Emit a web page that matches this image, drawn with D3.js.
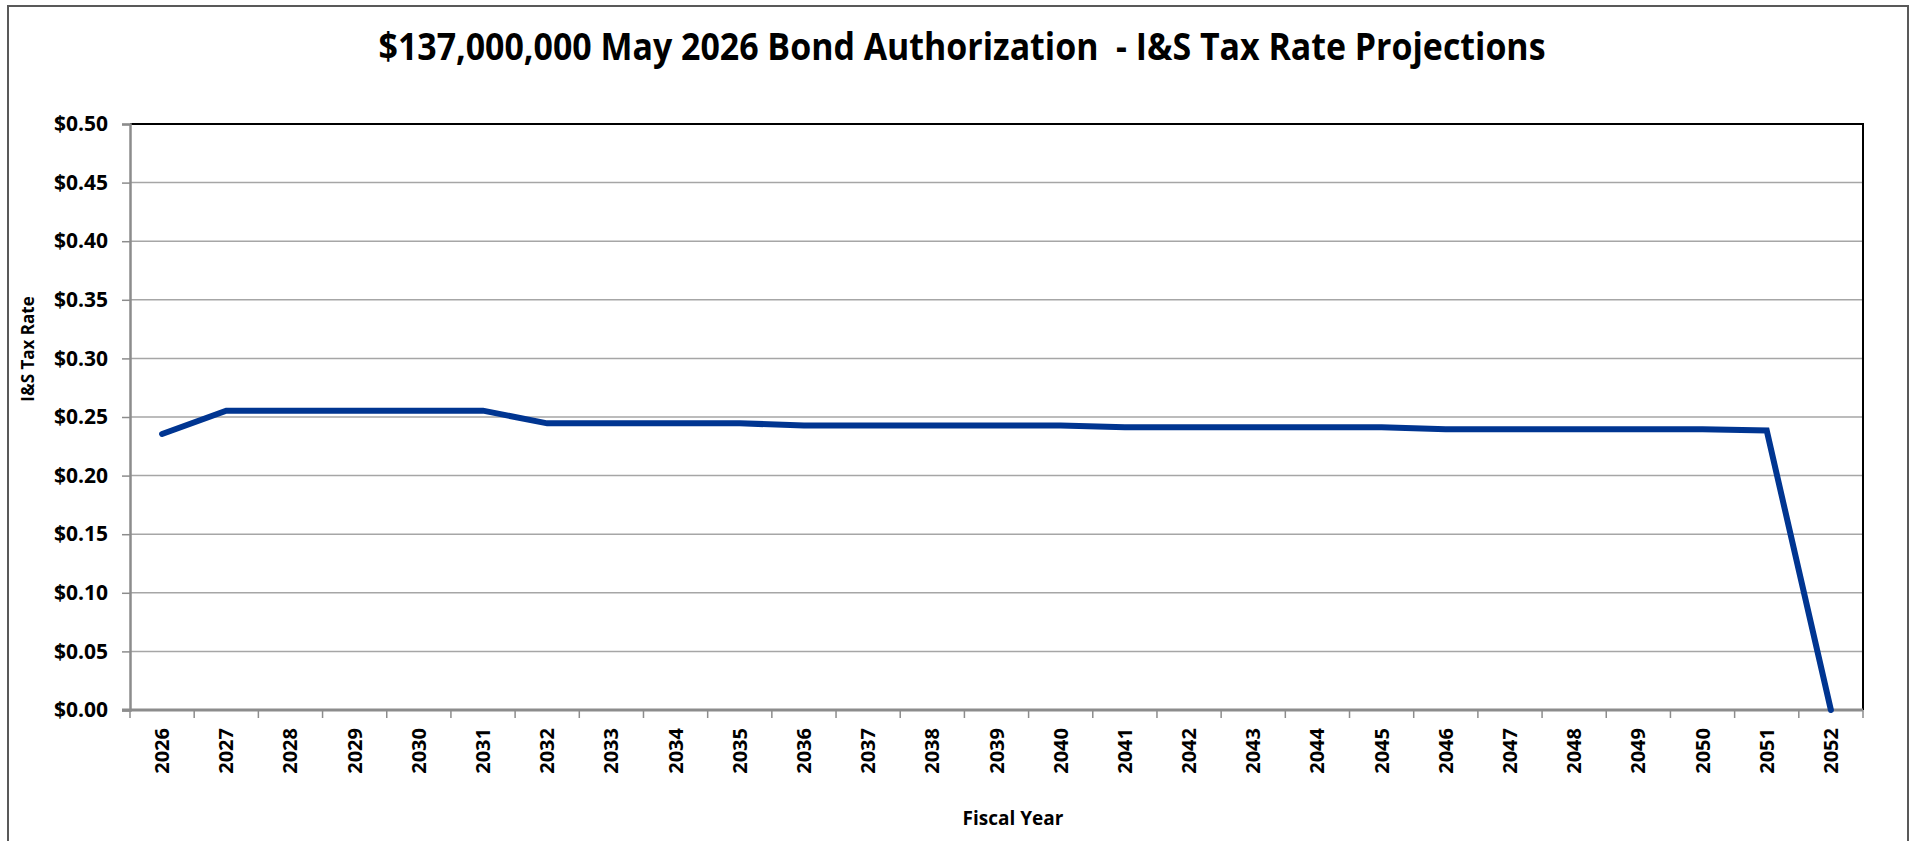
<!DOCTYPE html>
<html lang="en">
<head>
    <meta charset="UTF-8">
    <title>I&amp;S Tax Rate Projections</title>
    <script src="https://cdn.jsdelivr.net/npm/d3@7"></script>
    <style>
        body { margin: 0; background: #fff; }
        svg { display: block; font-family: "Open Sans", sans-serif; font-weight: bold; }
        .grid line { stroke: #a6a6a6; stroke-width: 1.5px; }
        .ylab text { font-size: 21px; fill: #000; }
        .xlab text { font-size: 20px; fill: #000; }
    </style>
</head>
<body>
    <script>
        // data
        let years = ['2026','2027','2028','2029','2030','2031','2032','2033','2034','2035',
                     '2036','2037','2038','2039','2040','2041','2042','2043','2044','2045',
                     '2046','2047','2048','2049','2050','2051','2052'];
        let rates = [0.2355, 0.2554, 0.2554, 0.2554, 0.2554, 0.2554, 0.2446, 0.2446, 0.2446, 0.2446,
                     0.2428, 0.2428, 0.2428, 0.2428, 0.2428, 0.2412, 0.2412, 0.2412, 0.2412, 0.2412,
                     0.2395, 0.2395, 0.2395, 0.2395, 0.2395, 0.2385, 0];
        let yTicks = [0, 0.05, 0.10, 0.15, 0.20, 0.25, 0.30, 0.35, 0.40, 0.45, 0.50];

        let title = '$137,000,000 May 2026 Bond Authorization  - I&S Tax Rate Projections';
        let yTitle = 'I&S Tax Rate';
        let xTitle = 'Fiscal Year';

        let width = 1916, height = 841;
        let plot = {left: 130, right: 1863, top: 124, bottom: 710};

        let svg = d3.select('body').append('svg')
                    .attr('width', width)
                    .attr('height', height);

        // outer frame
        svg.append('rect')
            .attr('x', 8).attr('y', 6)
            .attr('width', 1900).attr('height', 850)
            .attr('fill', 'none')
            .attr('stroke', '#595959')
            .attr('stroke-width', 2);

        // scales
        let x = d3.scaleBand()
                    .domain(years)
                    .range([plot.left, plot.right]);

        let y = d3.scaleLinear()
                    .domain([0, 0.5])
                    .range([plot.bottom, plot.top]);

        // gridlines
        svg.append('g')
            .attr('class', 'grid')
            .selectAll('line')
            .data(yTicks.slice(1, -1))
            .enter()
            .append('line')
            .attr('x1', plot.left)
            .attr('x2', plot.right)
            .attr('y1', y)
            .attr('y2', y);

        // top + right border
        svg.append('path')
            .attr('d', 'M' + plot.left + ',' + plot.top + 'H' + plot.right + 'V' + plot.bottom)
            .attr('fill', 'none')
            .attr('stroke', '#000')
            .attr('stroke-width', 2);

        // y axis
        let yAxis = svg.append('g')
            .attr('class', 'ylab')
            .attr('transform', 'translate(' + plot.left + ',0)')
            .call(d3.axisLeft(y)
                .tickValues(yTicks)
                .tickSize(8)
                .tickPadding(14)
                .tickFormat(function(d){ return '$' + d3.format('.2f')(d); }));
        yAxis.attr('font-family', null).attr('font-size', null);
        yAxis.select('.domain').attr('stroke', '#8c8c8c').attr('stroke-width', 2.5);
        yAxis.selectAll('.tick line').attr('stroke', '#8c8c8c').attr('stroke-width', 1.5);

        // x axis line and ticks between categories
        svg.append('line')
            .attr('x1', plot.left - 8).attr('x2', plot.right)
            .attr('y1', plot.bottom).attr('y2', plot.bottom)
            .attr('stroke', '#8c8c8c')
            .attr('stroke-width', 3);

        let edges = years.map(function(d){ return x(d); }).concat([plot.right]);
        svg.append('g')
            .selectAll('line')
            .data(edges)
            .enter()
            .append('line')
            .attr('x1', function(d){ return d; })
            .attr('x2', function(d){ return d; })
            .attr('y1', plot.bottom)
            .attr('y2', plot.bottom + 8)
            .attr('stroke', '#8c8c8c')
            .attr('stroke-width', 1.5);

        // year labels, rotated
        svg.append('g')
            .attr('class', 'xlab')
            .selectAll('text')
            .data(years)
            .enter()
            .append('text')
            .attr('transform', function(d){
                return 'translate(' + (x(d) + x.bandwidth() / 2 + 7) + ',' + 728 + ') rotate(-90)';
            })
            .attr('text-anchor', 'end')
            .text(function(d){ return d; });

        // line
        let line = d3.line()
                    .x(function(d, i){ return x(years[i]) + x.bandwidth() / 2; })
                    .y(function(d){ return y(d); });

        svg.append('path')
            .datum(rates)
            .attr('d', line)
            .attr('fill', 'none')
            .attr('stroke', '#003591')
            .attr('stroke-width', 6)
            .attr('stroke-linecap', 'round')
            .attr('stroke-linejoin', 'miter');

        // titles
        svg.append('text')
            .attr('x', 962)
            .attr('y', 60)
            .attr('text-anchor', 'middle')
            .attr('font-size', 38)
            .attr('textLength', 1167)
            .attr('lengthAdjust', 'spacingAndGlyphs')
            .style('white-space', 'pre')
            .text(title);

        svg.append('text')
            .attr('transform', 'translate(34,349) rotate(-90)')
            .attr('text-anchor', 'middle')
            .attr('font-size', 17)
            .text(yTitle);

        svg.append('text')
            .attr('x', 1013)
            .attr('y', 825)
            .attr('text-anchor', 'middle')
            .attr('font-size', 19)
            .text(xTitle);
    </script>
</body>
</html>
